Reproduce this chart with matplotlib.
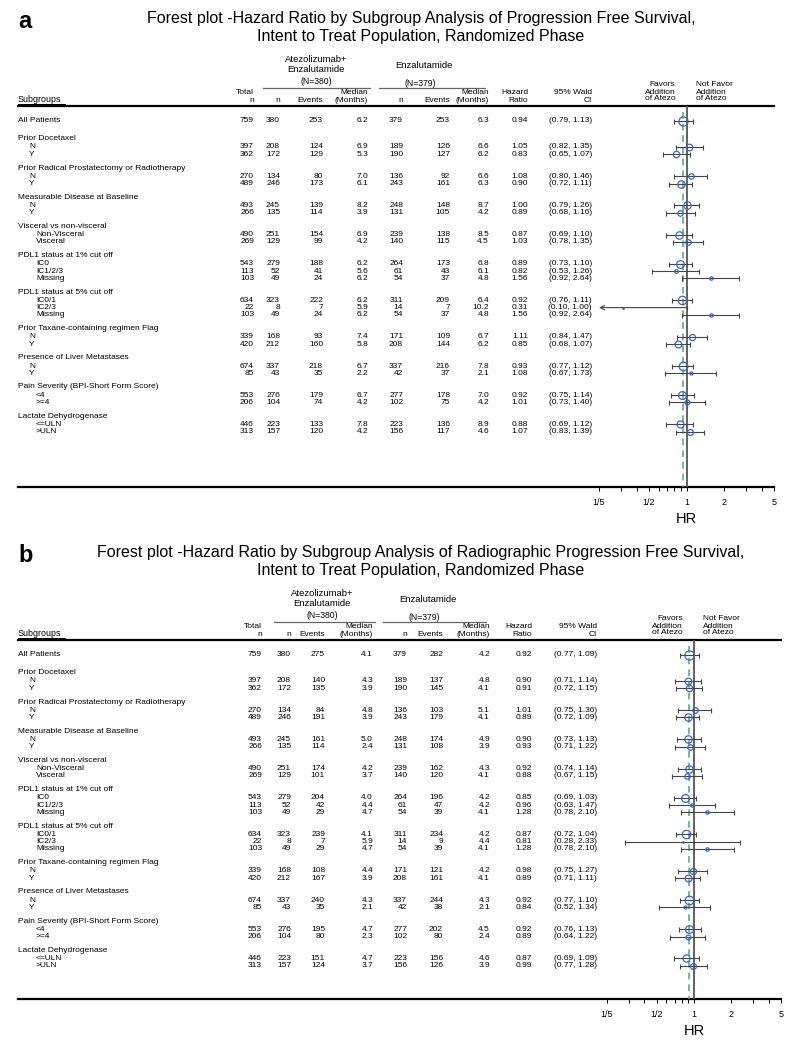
import numpy as np
import matplotlib.pyplot as plt

plt.rcParams['font.family'] = ['Liberation Sans', 'DejaVu Sans']

# subgroup layout (shared by both panels)
all_label = 'All Patients'
group_names = ['Prior Docetaxel', 'Prior Radical Prostatectomy or Radiotherapy',
               'Measurable Disease at Baseline', 'Visceral vs non-visceral',
               'PDL1 status at 1% cut off', 'PDL1 status at 5% cut off',
               'Prior Taxane-containing regimen Flag', 'Presence of Liver Metastases',
               'Pain Severity (BPI-Short Form Score)', 'Lactate Dehydrogenase']
group_levels = [['N', 'Y'], ['N', 'Y'], ['N', 'Y'], ['Non-Visceral', 'Visceral'],
                ['IC0', 'IC1/2/3', 'Missing'], ['IC0/1', 'IC2/3', 'Missing'],
                ['N', 'Y'], ['N', 'Y'], ['<4', '>=4'], ['<=ULN', '>ULN']]

# total n, same in both panels (first value = All Patients)
total_n = [759, 397, 362, 270, 489, 493, 266, 490, 269, 543, 113, 103,
           634, 22, 103, 339, 420, 674, 85, 553, 206, 446, 313]
atz_n = [380, 208, 172, 134, 246, 245, 135, 251, 129, 279, 52, 49,
         323, 8, 49, 168, 212, 337, 43, 276, 104, 223, 157]
enz_n = [379, 189, 190, 136, 243, 248, 131, 239, 140, 264, 61, 54,
         311, 14, 54, 171, 208, 337, 42, 277, 102, 223, 156]

# panel a: progression free survival
pfs_atz_events = [253, 124, 129, 80, 173, 139, 114, 154, 99, 188, 41, 24,
                  222, 7, 24, 93, 160, 218, 35, 179, 74, 133, 120]
pfs_atz_median = [6.2, 6.9, 5.3, 7.0, 6.1, 8.2, 3.9, 6.9, 4.2, 6.2, 5.6, 6.2,
                  6.2, 5.9, 6.2, 7.4, 5.8, 6.7, 2.2, 6.7, 4.2, 7.8, 4.2]
pfs_enz_events = [253, 126, 127, 92, 161, 148, 105, 138, 115, 173, 43, 37,
                  209, 7, 37, 109, 144, 216, 37, 178, 75, 136, 117]
pfs_enz_median = [6.3, 6.6, 6.2, 6.6, 6.3, 8.7, 4.2, 8.5, 4.5, 6.8, 6.1, 4.8,
                  6.4, 10.2, 4.8, 6.7, 6.2, 7.8, 2.1, 7.0, 4.2, 8.9, 4.6]
pfs_hr = [0.94, 1.05, 0.83, 1.08, 0.90, 1.00, 0.89, 0.87, 1.03, 0.89, 0.82, 1.56,
          0.92, 0.31, 1.56, 1.11, 0.85, 0.93, 1.08, 0.92, 1.01, 0.88, 1.07]
pfs_lo = [0.79, 0.82, 0.65, 0.80, 0.72, 0.79, 0.68, 0.69, 0.78, 0.73, 0.53, 0.92,
          0.76, 0.10, 0.92, 0.84, 0.68, 0.77, 0.67, 0.75, 0.73, 0.69, 0.83]
pfs_hi = [1.13, 1.35, 1.07, 1.46, 1.11, 1.26, 1.16, 1.10, 1.35, 1.10, 1.26, 2.64,
          1.11, 1.00, 2.64, 1.47, 1.07, 1.12, 1.73, 1.14, 1.40, 1.12, 1.39]

# panel b: radiographic progression free survival
rpfs_atz_events = [275, 140, 135, 84, 191, 161, 114, 174, 101, 204, 42, 29,
                   239, 7, 29, 108, 167, 240, 35, 195, 80, 151, 124]
rpfs_atz_median = [4.1, 4.3, 3.9, 4.8, 3.9, 5.0, 2.4, 4.2, 3.7, 4.0, 4.4, 4.7,
                   4.1, 5.9, 4.7, 4.4, 3.9, 4.3, 2.1, 4.7, 2.3, 4.7, 3.7]
rpfs_enz_events = [282, 137, 145, 103, 179, 174, 108, 162, 120, 196, 47, 39,
                   234, 9, 39, 121, 161, 244, 38, 202, 80, 156, 126]
rpfs_enz_median = [4.2, 4.8, 4.1, 5.1, 4.1, 4.9, 3.9, 4.3, 4.1, 4.2, 4.2, 4.1,
                   4.2, 4.4, 4.1, 4.2, 4.1, 4.3, 2.1, 4.5, 2.4, 4.6, 3.9]
rpfs_hr = [0.92, 0.90, 0.91, 1.01, 0.89, 0.90, 0.93, 0.92, 0.88, 0.85, 0.96, 1.28,
           0.87, 0.81, 1.28, 0.98, 0.89, 0.92, 0.84, 0.92, 0.89, 0.87, 0.99]
rpfs_lo = [0.77, 0.71, 0.72, 0.75, 0.72, 0.73, 0.71, 0.74, 0.67, 0.69, 0.63, 0.78,
           0.72, 0.28, 0.78, 0.75, 0.71, 0.77, 0.52, 0.76, 0.64, 0.69, 0.77]
rpfs_hi = [1.09, 1.14, 1.15, 1.36, 1.09, 1.13, 1.22, 1.14, 1.15, 1.03, 1.47, 2.10,
           1.04, 2.33, 2.10, 1.27, 1.11, 1.10, 1.34, 1.13, 1.22, 1.09, 1.28]

hr_ticks = [0.2, 0.5, 1, 2, 5]
hr_tick_labels = ['1/5', '1/2', '1', '2', '5']
hr_minor = [0.3, 0.4, 0.6, 0.7, 0.8, 0.9, 3, 4]

W, H = 796, 1050
BLUE = '#3f62c8'
GREEN = '#5fae82'
BAR = '#444444'
FS = 6.0

fig = plt.figure(figsize=(W / 100, H / 100), dpi=100)
bg = fig.add_axes([0, 0, 1, 1])
bg.set_xlim(0, W)
bg.set_ylim(H, 0)
bg.axis('off')


def row_ys(y_all):
    heads, subs = [], []
    y = y_all + 26
    for lev in group_levels:
        heads.append(y - 8.2)
        for i in range(len(lev)):
            subs.append(y + 7.3 * i)
        y += 7.3 * (len(lev) - 1) + 21.9
    return heads, subs


def panel(letter, title, top, y_all, axis_y, x02, x5, cols, atz_c, enz_c,
          a_ev, a_med, e_ev, e_med, hr, lo, hi):
    # titles
    bg.text(18, top - 84, letter, fontsize=17, fontweight='bold', va='center')
    bg.text(421, top - 88, title[0], fontsize=11.5, ha='center', va='center')
    bg.text(421, top - 69, title[1], fontsize=11.5, ha='center', va='center')

    # arm headers
    bg.text(atz_c, top - 47, 'Atezolizumab+', fontsize=6.8, ha='center', va='center')
    bg.text(atz_c, top - 36, 'Enzalutamide', fontsize=6.8, ha='center', va='center')
    bg.text(atz_c, top - 24, '(N=380)', fontsize=6.2, ha='center', va='center')
    bg.plot([cols[1] - 17, cols[3] + 2], [top - 18, top - 18], color='#666', lw=0.9)
    bg.text(enz_c, top - 40, 'Enzalutamide', fontsize=6.8, ha='center', va='center')
    bg.text(enz_c - 4, top - 23, '(N=379)', fontsize=6.2, ha='center', va='center')
    bg.plot([cols[4] - 24, cols[6] - 4], [top - 18, top - 18], color='#666', lw=0.9)

    # column headers
    hdr = [('Total', 'n'), ('', 'n'), ('', 'Events'), ('Median', '(Months)'),
           ('', 'n'), ('', 'Events'), ('Median', '(Months)'),
           ('Hazard', 'Ratio'), ('95% Wald', 'CI')]
    for x, (l1, l2) in zip(cols, hdr):
        if l1:
            bg.text(x, top - 13, l1, fontsize=FS, ha='right', va='center')
        bg.text(x, top - 6, l2, fontsize=FS, ha='right', va='center')
    fx1 = x02 + (x5 - x02) * np.log(1 / 0.2) / np.log(25)
    for i, s in enumerate(['Favors', 'Addition', 'of Atezo']):
        bg.text(fx1 - 11, top - 21 + 7 * i, s, fontsize=FS, ha='right', va='center')
    for i, s in enumerate(['Not Favor', 'Addition', 'of Atezo']):
        bg.text(fx1 + 9, top - 21 + 7 * i, s, fontsize=FS, ha='left', va='center')
    bg.text(18, top - 6, 'Subgroups', fontsize=6.4, ha='left', va='center')
    bg.plot([18, 65], [top - 2.3, top - 2.3], color='black', lw=0.7)
    bg.plot([18, x5], [top, top], color='black', lw=1.6)
    bg.plot([18, x5], [axis_y, axis_y], color='black', lw=1.6)

    # row labels and table values
    heads, subs = row_ys(y_all)
    ys = [y_all] + subs
    bg.text(18, y_all, all_label, fontsize=FS, va='center')
    k = 0
    for g, lev, hy in zip(group_names, group_levels, heads):
        bg.text(18, hy, g, fontsize=FS, va='center')
        for s in lev:
            xi = 29 if s in ('N', 'Y') else 36
            bg.text(xi, subs[k], s, fontsize=FS, va='center')
            k += 1
    for i, y in enumerate(ys):
        vals = [str(total_n[i]), str(atz_n[i]), str(a_ev[i]), '%.1f' % a_med[i],
                str(enz_n[i]), str(e_ev[i]), '%.1f' % e_med[i], '%.2f' % hr[i],
                '(%.2f, %.2f)' % (lo[i], hi[i])]
        for x, v in zip(cols, vals):
            bg.text(x, y, v, fontsize=FS, ha='right', va='center')

    # forest plot
    ax = fig.add_axes([x02 / W, 1 - axis_y / H, (x5 - x02) / W, (axis_y - top) / H])
    ax.set_xscale('log')
    ax.set_xlim(0.2, 5)
    ax.set_ylim(axis_y, top)
    ax.patch.set_alpha(0)
    for sp in ax.spines.values():
        sp.set_visible(False)
    ax.set_yticks([])
    ax.set_xticks(hr_ticks)
    ax.set_xticklabels(hr_tick_labels)
    ax.set_xticks(hr_minor, minor=True)
    ax.set_xticklabels([], minor=True)
    ax.tick_params(axis='x', which='both', length=2.6, width=0.7, direction='out',
                   labelsize=6.5, pad=5)
    ax.set_xlabel('HR', fontsize=10.5, labelpad=4)
    ax.plot([1, 1], [top, axis_y], color='#555', lw=1.3, zorder=1)
    ax.plot([hr[0], hr[0]], [top + 6, axis_y], color=GREEN, lw=1.2,
            ls=(0, (4, 3)), zorder=1)
    for i, y in enumerate(ys):
        if lo[i] < 0.2:
            ax.annotate('', xy=(0.2, y), xytext=(hi[i], y),
                        arrowprops=dict(arrowstyle='->', color=BAR, lw=0.8,
                                        shrinkA=0, shrinkB=0, mutation_scale=8))
            ax.plot([hi[i]], [y], marker='|', ms=3.5, color=BAR, mew=0.8)
        else:
            ax.errorbar(hr[i], y, xerr=[[hr[i] - lo[i]], [hi[i] - hr[i]]],
                        fmt='none', ecolor=BAR, elinewidth=0.8, capsize=1.8,
                        capthick=0.8, zorder=2)
        ax.plot(hr[i], y, 'o', mfc='none', mec=BLUE, mew=0.9,
                ms=0.24 * np.sqrt(total_n[i]), zorder=3)


panel('a', ['Forest plot -Hazard Ratio by Subgroup Analysis of Progression Free Survival,',
            'Intent to Treat Population, Randomized Phase'],
      106, 121, 487, 599, 774,
      [254, 280, 323, 368, 403, 450, 489, 528, 592], 316, 424,
      pfs_atz_events, pfs_atz_median, pfs_enz_events, pfs_enz_median,
      pfs_hr, pfs_lo, pfs_hi)

panel('b', ['Forest plot -Hazard Ratio by Subgroup Analysis of Radiographic Progression Free Survival,',
            'Intent to Treat Population, Randomized Phase'],
      640, 655, 999, 607, 781,
      [262, 291, 325, 373, 407, 443, 490, 532, 597], 322, 428,
      rpfs_atz_events, rpfs_atz_median, rpfs_enz_events, rpfs_enz_median,
      rpfs_hr, rpfs_lo, rpfs_hi)

fig.savefig('out.png', dpi=100)
